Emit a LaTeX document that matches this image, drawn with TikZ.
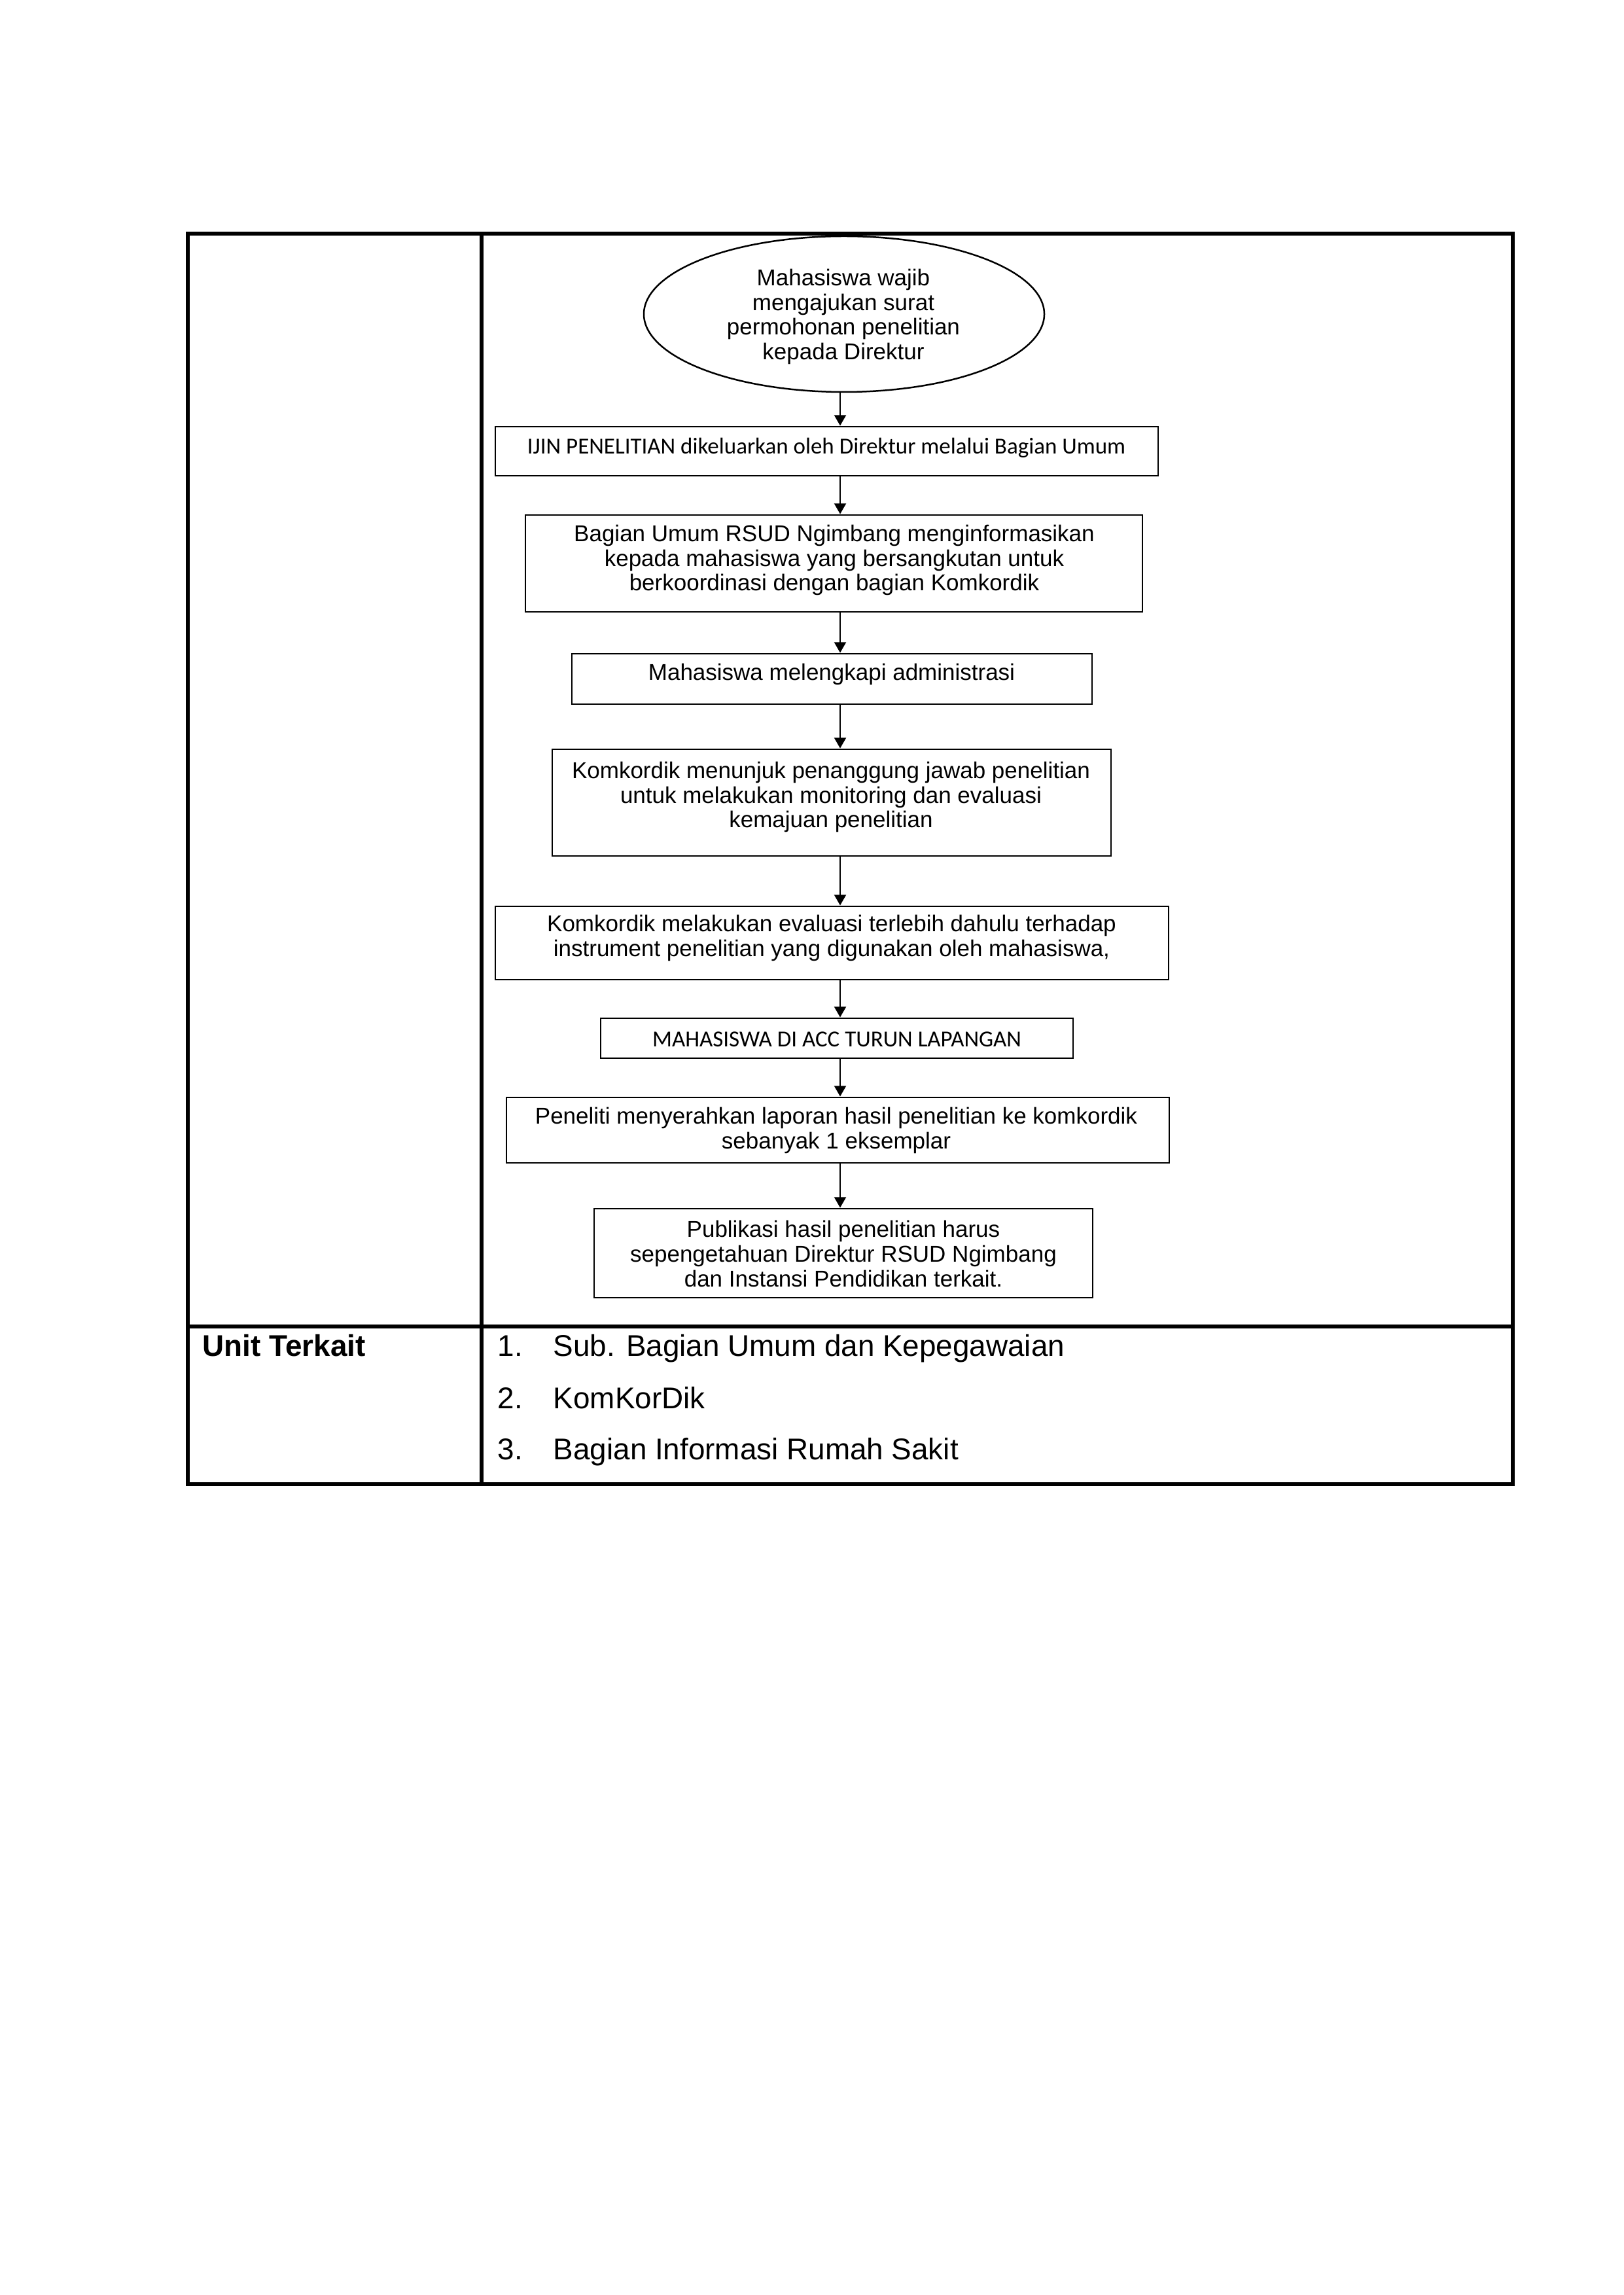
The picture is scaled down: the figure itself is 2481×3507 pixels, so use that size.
\documentclass[tikz,border=0pt]{standalone}
\usepackage{fontspec}
\setmainfont{Liberation Sans}
\newfontfamily\carl{Carlito}
\usetikzlibrary{arrows.meta,shapes.geometric}
\begin{document}
\begin{tikzpicture}[x=0.24pt,y=-0.24pt,
  frame/.style={line width=1.5pt},
  pbox/.style 2 args={draw, line width=0.7pt, rectangle, inner sep=0pt, minimum width=#1*0.24pt, minimum height=#2*0.24pt},
  txt/.style={align=center, inner sep=0pt, font=\fontsize{8.4pt}{9.1pt}\selectfont},
  ctxt/.style={align=center, inner sep=0pt, font=\carl\fontsize{8.4pt}{9.1pt}\selectfont},
  flow/.style={line width=0.6pt, -{Triangle[length=3.9pt,width=4.3pt]}},
  item/.style={anchor=base west, inner sep=0pt, font=\fontsize{11pt}{13pt}\selectfont}]
\useasboundingbox (0,0) rectangle (2481,3507);
% table frame
\draw[frame] (287,357) rectangle (2312,2268);
\draw[frame] (736,357) -- (736,2268);
\draw[frame] (287,2027) -- (2312,2027);
% flow shapes
\node[draw, ellipse, line width=0.6pt, inner sep=0pt, minimum width=612*0.24pt, minimum height=238*0.24pt] (e) at (1290,480) {};
\node[pbox={1013}{75}] (b2) at (1263.5,689.5) {};
\node[pbox={943}{148}] (b3) at (1274.5,861) {};
\node[pbox={795}{77}] (b4) at (1271.5,1037.5) {};
\node[pbox={854}{163}] (b5) at (1271,1226.5) {};
\node[pbox={1029}{112}] (b6) at (1271.5,1441) {};
\node[pbox={722}{61}] (b7) at (1279,1586.5) {};
\node[pbox={1013}{100}] (b8) at (1280.5,1727) {};
\node[pbox={762}{136}] (b9) at (1289,1915) {};
% texts
\node[txt] (t1) at (1289,484) {Mahasiswa wajib\\mengajukan surat\\permohonan penelitian\\kepada Direktur};
\node[ctxt] (t2) at (1263,684) {IJIN PENELITIAN dikeluarkan oleh Direktur melalui Bagian Umum};
\node[txt] (t3) at (1275,856) {Bagian Umum RSUD Ngimbang menginformasikan\\kepada mahasiswa yang bersangkutan untuk\\berkoordinasi dengan bagian Komkordik};
\node[txt] (t4) at (1271,1030) {Mahasiswa melengkapi administrasi};
\node[txt] (t5) at (1270,1218) {Komkordik menunjuk penanggung jawab penelitian\\untuk melakukan monitoring dan evaluasi\\kemajuan penelitian};
\node[txt] (t6) at (1271,1433) {Komkordik melakukan evaluasi terlebih dahulu terhadap\\instrument penelitian yang digunakan oleh mahasiswa,};
\node[ctxt] (t7) at (1279,1588) {MAHASISWA DI ACC TURUN LAPANGAN};
\node[txt] (t8) at (1278,1727) {Peneliti menyerahkan laporan hasil penelitian ke komkordik\\sebanyak 1 eksemplar};
\node[txt] (t9) at (1289,1916) {Publikasi hasil penelitian harus\\sepengetahuan Direktur RSUD Ngimbang\\dan Instansi Pendidikan terkait.};
% connectors
\coordinate (ax) at (1284,0);
\draw[flow] (e.south -| ax) -- (b2.north -| ax);
\draw[flow] (b2.south -| ax) -- (b3.north -| ax);
\draw[flow] (b3.south -| ax) -- (b4.north -| ax);
\draw[flow] (b4.south -| ax) -- (b5.north -| ax);
\draw[flow] (b5.south -| ax) -- (b6.north -| ax);
\draw[flow] (b6.south -| ax) -- (b7.north -| ax);
\draw[flow] (b7.south -| ax) -- (b8.north -| ax);
\draw[flow] (b8.south -| ax) -- (b9.north -| ax);
% bottom row
\node[item, font=\bfseries\fontsize{11pt}{13pt}\selectfont] (unit) at (309,2072) {Unit Terkait};
\node[item] (n1) at (760,2072) {1.};
\node[item] (i1) at (845,2072) {Sub. Bagian Umum dan Kepegawaian};
\node[item] (n2) at (760,2152) {2.};
\node[item] (i2) at (845,2152) {KomKorDik};
\node[item] (n3) at (760,2230) {3.};
\node[item] (i3) at (845,2230) {Bagian Informasi Rumah Sakit};
\end{tikzpicture}
\end{document}
